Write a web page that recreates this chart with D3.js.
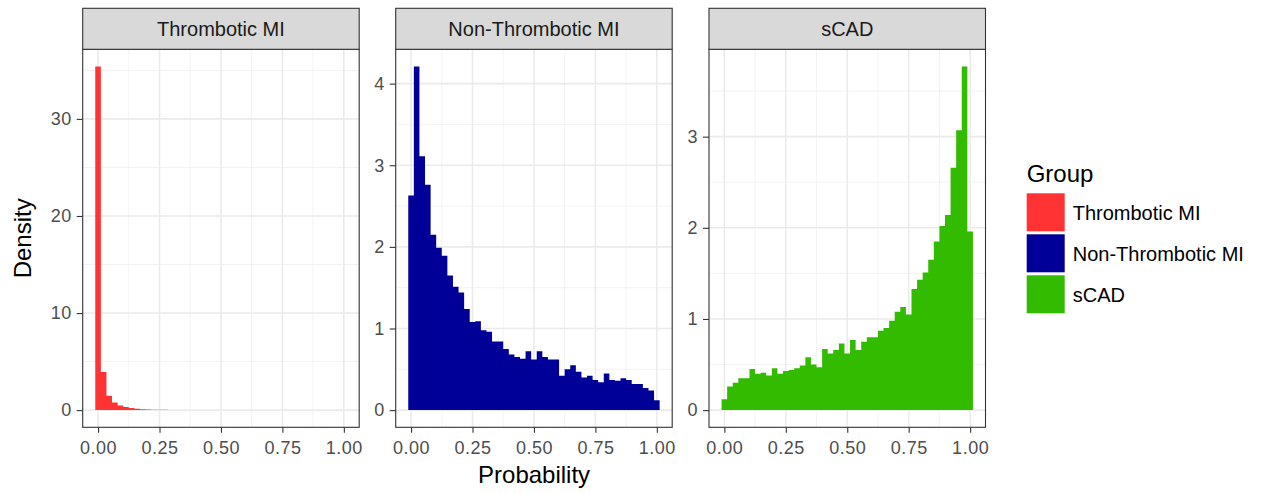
<!DOCTYPE html>
<html>
<head>
<meta charset="utf-8">
<script src="https://cdn.jsdelivr.net/npm/d3@7"></script>
<style>
  body { margin: 0; background: #fff; }
  text { font-family: "Liberation Sans", Arial, sans-serif; }
</style>
</head>
<body>
<svg id="chart" width="1261" height="493"></svg>
<script>
const groups = ["Thrombotic MI", "Non-Thrombotic MI", "sCAD"];
const groupColors = ["#FF3333", "#000099", "#33BB00"];

// 45 bins, centred on 0, 1/44, ..., 1 (ggplot style)
const binCount = 45;
const binCenters = d3.range(binCount).map(i => i / (binCount - 1));

const thromboticDensity = [
  35.4, 3.92, 1.48, 0.79, 0.48, 0.32, 0.21, 0.14, 0.09, 0.07, 0.05, 0.04, 0.03,
  0, 0, 0, 0, 0, 0, 0, 0, 0, 0, 0, 0, 0, 0, 0, 0, 0, 0, 0, 0, 0, 0, 0, 0, 0, 0,
  0, 0, 0, 0, 0, 0
];
const nonThromboticDensity = [
  2.63, 4.21, 3.11, 2.76, 2.15, 1.99, 1.89, 1.65, 1.51, 1.44, 1.24, 1.08, 1.09,
  0.98, 0.96, 0.84, 0.84, 0.75, 0.68, 0.65, 0.63, 0.72, 0.62, 0.72, 0.65, 0.62,
  0.62, 0.42, 0.50, 0.55, 0.47, 0.40, 0.42, 0.37, 0.34, 0.45, 0.37, 0.36, 0.39,
  0.37, 0.32, 0.32, 0.27, 0.24, 0.12
];
const scadDensity = [
  0.12, 0.26, 0.30, 0.35, 0.35, 0.45, 0.40, 0.41, 0.38, 0.46, 0.40, 0.43, 0.44,
  0.46, 0.49, 0.58, 0.50, 0.47, 0.67, 0.62, 0.66, 0.73, 0.62, 0.77, 0.66, 0.75,
  0.80, 0.80, 0.87, 0.90, 0.98, 1.08, 1.13, 1.05, 1.33, 1.43, 1.51, 1.65, 1.85,
  2.02, 2.14, 2.66, 3.07, 3.77, 1.96
];
const densities = [thromboticDensity, nonThromboticDensity, scadDensity];

const xTicks = [0, 0.25, 0.5, 0.75, 1];
const xMinor = [0.125, 0.375, 0.625, 0.875];
const yTicks = [[0, 10, 20, 30], [0, 1, 2, 3, 4], [0, 1, 2, 3]];
const yMinor = [[5, 15, 25, 35], [0.5, 1.5, 2.5, 3.5], [0.5, 1.5, 2.5, 3.5]];

const svg = d3.select("#chart");
svg.append("rect").attr("width", 1261).attr("height", 493).attr("fill", "#fff");

const panelLeft = [82.7, 395.7, 709];
const panelTop = 49.3, panelBottom = 427.3;
const panelW = 276.5, panelH = panelBottom - panelTop;
const stripTop = 8.3;
const border = "#333333";

const half = 0.5 / (binCount - 1);
const xlo = -half, xhi = 1 + half, xpad = 0.05 * (xhi - xlo);
const x = d3.scaleLinear().domain([xlo - xpad, xhi + xpad]).range([0, panelW]);

groups.forEach((name, p) => {
  const vals = densities[p];
  const ymax = d3.max(vals);
  const y = d3.scaleLinear().domain([-0.05 * ymax, ymax * 1.05]).range([panelH, 0]);

  const g = svg.append("g").attr("transform", `translate(${panelLeft[p]},${panelTop})`);

  // grid
  g.selectAll(".xminor").data(xMinor).join("line")
      .attr("x1", d => x(d)).attr("x2", d => x(d)).attr("y1", 0).attr("y2", panelH)
      .attr("stroke", "#F0F0F0").attr("stroke-width", 0.8);
  g.selectAll(".yminor").data(yMinor[p]).join("line")
      .attr("x1", 0).attr("x2", panelW).attr("y1", d => y(d)).attr("y2", d => y(d))
      .attr("stroke", "#F0F0F0").attr("stroke-width", 0.8);
  g.selectAll(".xmajor").data(xTicks).join("line")
      .attr("x1", d => x(d)).attr("x2", d => x(d)).attr("y1", 0).attr("y2", panelH)
      .attr("stroke", "#EBEBEB").attr("stroke-width", 1.6);
  g.selectAll(".ymajor").data(yTicks[p]).join("line")
      .attr("x1", 0).attr("x2", panelW).attr("y1", d => y(d)).attr("y2", d => y(d))
      .attr("stroke", "#EBEBEB").attr("stroke-width", 1.6);

  // histogram as one stepped area so adjacent bars have no seams
  const last = d3.max(vals.map((v, i) => v > 0 ? i : -1));
  const steps = vals.slice(0, last + 1).map((v, i) => ({ x: binCenters[i] - half, v }));
  steps.push({ x: binCenters[last] + half, v: vals[last] });
  const area = d3.area()
      .x(d => x(d.x))
      .y0(y(0))
      .y1(d => y(d.v))
      .curve(d3.curveStepAfter);
  g.append("path").datum(steps).attr("d", area).attr("fill", groupColors[p]);

  // border
  g.append("rect").attr("width", panelW).attr("height", panelH)
      .attr("fill", "none").attr("stroke", border).attr("stroke-width", 1.1);

  // axes
  const ax = g.append("g").attr("transform", `translate(0,${panelH})`)
      .call(d3.axisBottom(x).tickValues(xTicks).tickFormat(d3.format(".2f")).tickSize(5.5).tickPadding(8));
  const ay = g.append("g")
      .call(d3.axisLeft(y).tickValues(yTicks[p]).tickFormat(d3.format("d")).tickSize(6).tickPadding(5));
  [ax, ay].forEach(a => {
    a.select(".domain").remove();
    a.selectAll("line").attr("stroke", border).attr("stroke-width", 1.1);
    a.selectAll("text").attr("fill", "#4D4D4D").style("font-size", "18px")
        .style("letter-spacing", "0.5px").style("font-family", "'Liberation Sans', Arial, sans-serif");
  });

  // strip
  svg.append("rect")
      .attr("x", panelLeft[p]).attr("y", stripTop)
      .attr("width", panelW).attr("height", panelTop - stripTop)
      .attr("fill", "#D9D9D9").attr("stroke", border).attr("stroke-width", 1.1);
  svg.append("text")
      .attr("x", panelLeft[p] + panelW / 2).attr("y", 36)
      .attr("text-anchor", "middle").attr("fill", "#1A1A1A")
      .style("font-size", "20px").text(name);
});

// axis titles
svg.append("text")
    .attr("x", (panelLeft[0] + panelLeft[2] + panelW) / 2).attr("y", 483)
    .attr("text-anchor", "middle").style("font-size", "24px").attr("fill", "#000")
    .text("Probability");
svg.append("text")
    .attr("transform", `translate(31,${(panelTop + panelBottom) / 2}) rotate(-90)`)
    .attr("text-anchor", "middle").style("font-size", "24px").attr("fill", "#000")
    .text("Density");

// legend
const legend = svg.append("g").attr("transform", "translate(1026.7,0)");
legend.append("text").attr("x", 0).attr("y", 182.3)
    .style("font-size", "24px").attr("fill", "#000").text("Group");
const keyY = d3.scaleBand().domain(groups).range([193.3, 193.3 + 41 * 3]).paddingInner(0);
groups.forEach((name, i) => {
  legend.append("rect")
      .attr("x", 0).attr("y", keyY(name)).attr("width", 38).attr("height", 38)
      .attr("fill", groupColors[i]);
  legend.append("text")
      .attr("x", 46).attr("y", keyY(name) + 19 + 7.5)
      .style("font-size", "20px").attr("fill", "#000").text(name);
});
</script>
</body>
</html>
